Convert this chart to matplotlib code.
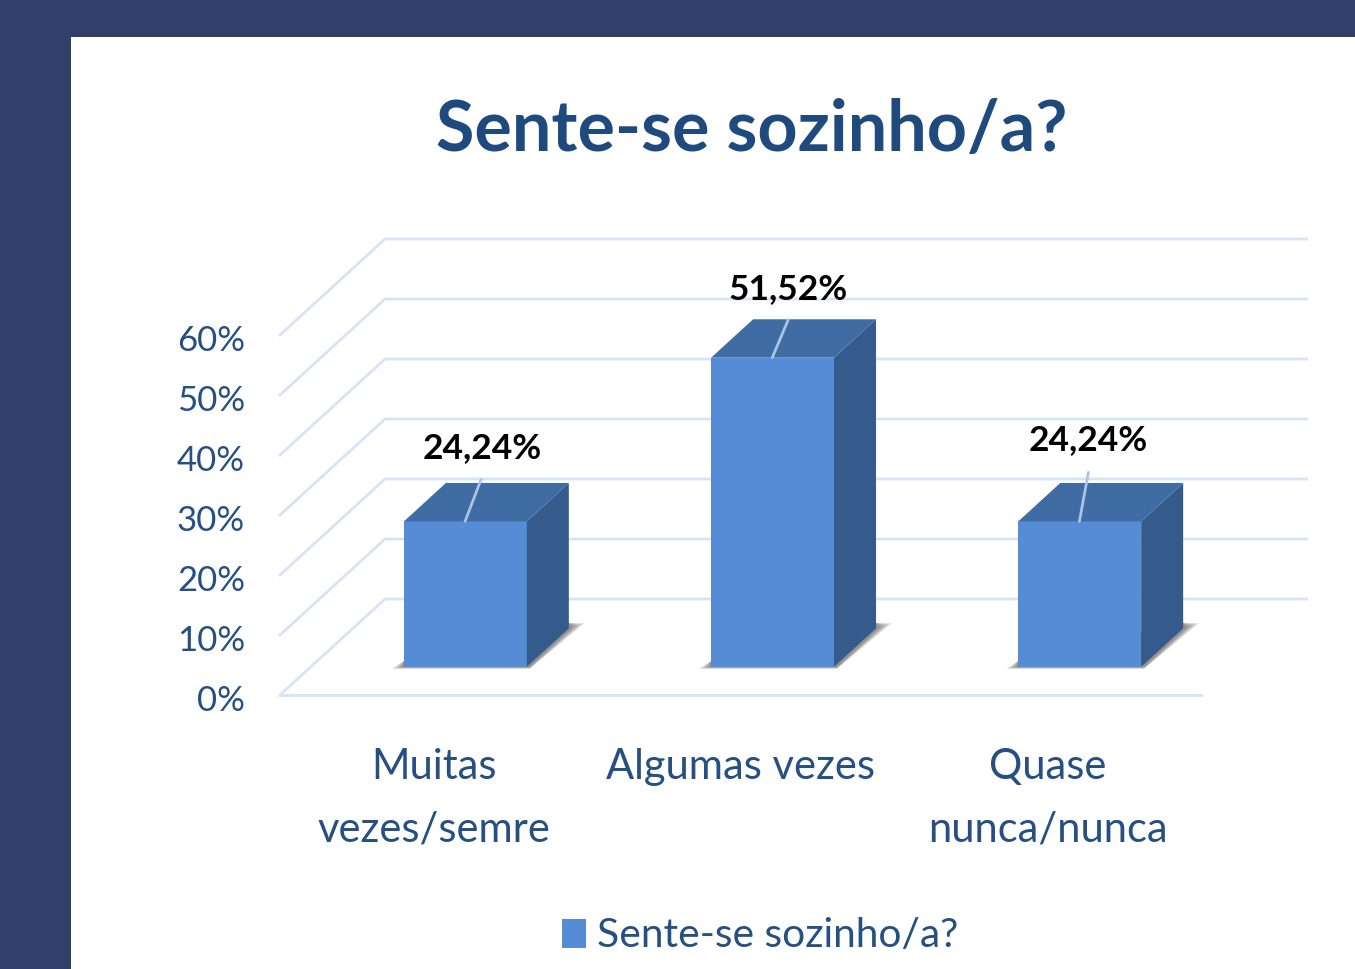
import matplotlib
matplotlib.use("Agg")
import matplotlib.pyplot as plt
from matplotlib.patches import Polygon, Rectangle

categories = ["Muitas\nvezes/semre", "Algumas vezes", "Quase\nnunca/nunca"]
values = [24.24, 51.52, 24.24]
value_labels = ["24,24%", "51,52%", "24,24%"]
ticks = [0, 10, 20, 30, 40, 50, 60]
tick_labels = ["0%", "10%", "20%", "30%", "40%", "50%", "60%"]
series_name = "Sente-se sozinho/a?"
title = "Sente-se sozinho/a?"

W, H = 1355, 970
navy = "#323f6b"
text_blue = "#264f82"
title_blue = "#1f4a7d"
grid_col = "#d6e4f5"
front = "#568bd6"
top = "#3f6ca3"
side = "#345b8b"
fam = "Lato"

fig = plt.figure(figsize=(W / 100, H / 100), dpi=100, facecolor="white")

# slide frame
fig.patches.append(Rectangle((0, 0), 70.6 / W, 1, transform=fig.transFigure, color=navy, lw=0))
fig.patches.append(Rectangle((0, 1 - 37.5 / H), 1, 37.5 / H, transform=fig.transFigure, color=navy, lw=0))

ax = fig.add_axes([280 / W, 1 - 696 / H, 921.5 / W, 360 / H])
ax.set_xlim(-0.5, 2.5)
ax.set_ylim(0, 60)
ax.axis("off")

# 3d look: depth of the walls and bars in data units
dx = 105 / (921.5 / 3)
dy = 96 / 6
bar_w = 0.4
z0, z1 = 0.3, 0.7
x0, x1 = ax.get_xlim()

# walls
for t in ticks:
    ax.plot([x0, x0 + dx, x1 + dx], [t, t + dy, t + dy], color=grid_col, lw=2,
            clip_on=False, zorder=1, solid_joinstyle="miter")
ax.plot([x0, x1], [0, 0], color=grid_col, lw=2, clip_on=False, zorder=1)

for i, v in enumerate(values):
    xl = i - bar_w / 2 + dx * z0 + 0.001
    xr = xl + bar_w
    yb = dy * z0 - 0.1
    yt = yb + v
    ox, oy = dx * (z1 - z0), dy * (z1 - z0)

    # floor shadow, stacked for a soft edge
    for k in range(6):
        g = (5 - k) / 5
        ax.add_patch(Polygon([(xl - 0.005 - 0.035 * g, yb - 0.05 - 0.3 * g), (xr + 0.01, yb - 0.05 - 0.3 * g),
                              (xr + ox + 0.012 + 0.04 * g, yb + oy + 0.2 + 0.7 * g), (xr + ox, yb + oy + 0.9), (xl, yb + 1)],
                             color="#2a2a2a", alpha=0.11, lw=0, zorder=2, clip_on=False))

    ax.add_patch(Polygon([(xl, yb), (xr, yb), (xr, yt), (xl, yt)], color=front, lw=0, zorder=3, clip_on=False))
    ax.add_patch(Polygon([(xr, yb), (xr + ox, yb + oy), (xr + ox, yt + oy), (xr, yt)], color=side, lw=0, zorder=3, clip_on=False))
    ax.add_patch(Polygon([(xl, yt), (xr, yt), (xr + ox, yt + oy), (xl + ox, yt + oy)], color=top, lw=0, zorder=3, clip_on=False))

# data labels and their leader lines, offsets in px from the front top centre
px = 72 / 100
label_off = [(17, 74), (16, 70), (9, 82)]
leader_off = [(16, 42), (16, 38), (9, 49)]
for i, v in enumerate(values):
    xc = i + dx * z0
    yt = dy * z0 - 0.1 + v
    ax.annotate("", xy=(xc, yt), xytext=(leader_off[i][0] * px, leader_off[i][1] * px),
                xycoords="data", textcoords="offset points",
                arrowprops=dict(arrowstyle="-", color="#a9c4e6", lw=2, shrinkA=0, shrinkB=0), zorder=4)
    ax.annotate(value_labels[i], xy=(xc, yt), xytext=(label_off[i][0] * px, label_off[i][1] * px),
                textcoords="offset points", ha="center", va="center", fontsize=25.5,
                fontweight="bold", family=fam, color="black", zorder=5)

# axis tick labels
for t, s in zip(ticks, tick_labels):
    ax.annotate(s, xy=(x0, t), xytext=(-35 * px, -5 * px), textcoords="offset points", ha="right",
                va="center", fontsize=25, family=fam, color=text_blue)

# category labels
for i, c in enumerate(categories):
    ax.annotate(c, xy=(i, 0), xytext=(0, -52 * px), textcoords="offset points", ha="center",
                va="top", fontsize=30, family=fam, color=text_blue, linespacing=1.8)

fig.text(752 / W, 1 - 130 / H, title, ha="center", va="center", fontsize=50.5, fontweight="bold",
         family=fam, color=title_blue)

# legend
fig.patches.append(Rectangle((562 / W, 1 - 949 / H), 24 / W, 29 / H, transform=fig.transFigure, color=front, lw=0))
fig.text(597 / W, 1 - 936 / H, series_name, ha="left", va="center", fontsize=29.3, family=fam, color=text_blue)

fig.savefig("out.png", dpi=100)
